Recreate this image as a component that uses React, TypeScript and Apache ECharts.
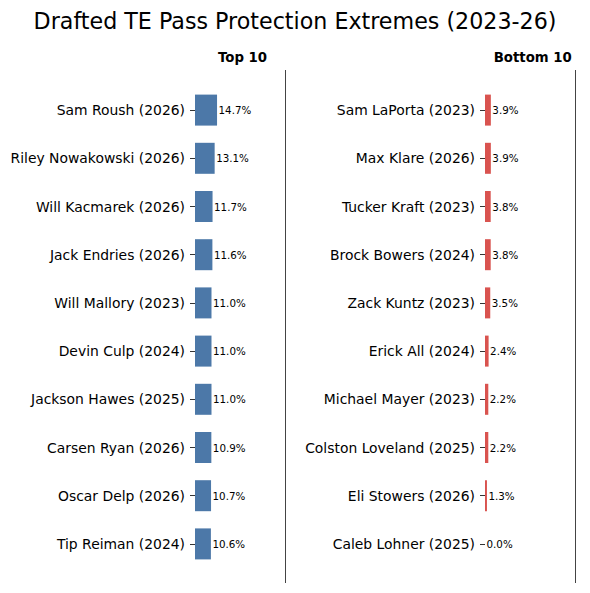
import React, { useEffect, useRef } from "react";
import * as echarts from "echarts";

const topNames = [
  "Sam Roush (2026)",
  "Riley Nowakowski (2026)",
  "Will Kacmarek (2026)",
  "Jack Endries (2026)",
  "Will Mallory (2023)",
  "Devin Culp (2024)",
  "Jackson Hawes (2025)",
  "Carsen Ryan (2026)",
  "Oscar Delp (2026)",
  "Tip Reiman (2024)",
];
const topValues = [14.7, 13.1, 11.7, 11.6, 11.0, 11.0, 11.0, 10.9, 10.7, 10.6];

const bottomNames = [
  "Sam LaPorta (2023)",
  "Max Klare (2026)",
  "Tucker Kraft (2023)",
  "Brock Bowers (2024)",
  "Zack Kuntz (2023)",
  "Erick All (2024)",
  "Michael Mayer (2023)",
  "Colston Loveland (2025)",
  "Eli Stowers (2026)",
  "Caleb Lohner (2025)",
];
const bottomValues = [3.9, 3.9, 3.8, 3.8, 3.5, 2.4, 2.2, 2.2, 1.3, 0.0];

const xMax = 60;
const FONT = "DejaVu Sans";

export default function App() {
  const ref = useRef<HTMLDivElement>(null);
  useEffect(() => {
    if (!ref.current) return;
    const chart = echarts.init(ref.current, undefined, { renderer: "svg" });
    const yAxisCommon = {
      type: "category" as const,
      inverse: true,
      axisLine: { show: false },
      axisTick: { show: true, alignWithLabel: true, length: 5, lineStyle: { color: "#000", width: 0.8 } },
      axisLabel: { color: "#000", fontSize: 13.9, fontFamily: FONT, margin: 10 },
      splitLine: { show: false },
    };
    const xAxisCommon = {
      type: "value" as const,
      min: 0,
      max: xMax,
      show: false,
    };
    const labelCommon = {
      show: true,
      position: "right" as const,
      distance: 1.5,
      color: "#000",
      fontSize: 10.3,
      fontFamily: FONT,
      formatter: (p: any) => `${Number(p.value).toFixed(1)}%`,
    };
    chart.setOption({
      animation: false,
      backgroundColor: "#fff",
      grid: [
        { left: 195, width: 90, top: 86, height: 482 },
        { left: 485, width: 90, top: 86, height: 482 },
      ],
      xAxis: [
        { ...xAxisCommon, gridIndex: 0 },
        { ...xAxisCommon, gridIndex: 1 },
      ],
      yAxis: [
        { ...yAxisCommon, gridIndex: 0, data: topNames },
        { ...yAxisCommon, gridIndex: 1, data: bottomNames },
      ],
      series: [
        {
          type: "bar",
          xAxisIndex: 0,
          yAxisIndex: 0,
          data: topValues,
          barWidth: 31,
          itemStyle: { color: "#4C78A8" },
          label: labelCommon,
        },
        {
          type: "bar",
          xAxisIndex: 1,
          yAxisIndex: 1,
          data: bottomValues,
          barWidth: 31,
          itemStyle: { color: "#D9534F" },
          label: labelCommon,
        },
      ],
      graphic: [
        {
          type: "text",
          x: 295,
          y: 20.5,
          style: {
            text: "Drafted TE Pass Protection Extremes (2023-26)",
            fontSize: 22.2,
            fontFamily: FONT,
            fill: "#000",
            align: "center",
            verticalAlign: "middle",
          },
        },
        {
          type: "text",
          x: 242.5,
          y: 57.5,
          style: {
            text: "Top 10",
            fontSize: 13.3,
            fontWeight: "bold",
            fontFamily: FONT,
            fill: "#000",
            align: "center",
            verticalAlign: "middle",
          },
        },
        {
          type: "text",
          x: 532.7,
          y: 57.5,
          style: {
            text: "Bottom 10",
            fontSize: 13.3,
            fontWeight: "bold",
            fontFamily: FONT,
            fill: "#000",
            align: "center",
            verticalAlign: "middle",
          },
        },
        {
          type: "line",
          shape: { x1: 285.5, y1: 70, x2: 285.5, y2: 583 },
          style: { stroke: "#444", lineWidth: 1 },
        },
        {
          type: "line",
          shape: { x1: 575.5, y1: 70, x2: 575.5, y2: 583 },
          style: { stroke: "#444", lineWidth: 1 },
        },
      ],
    });
    return () => chart.dispose();
  }, []);
  return (
    <div
      ref={ref}
      style={{ position: "fixed", left: 0, top: 0, width: 590, height: 593 }}
    />
  );
}
